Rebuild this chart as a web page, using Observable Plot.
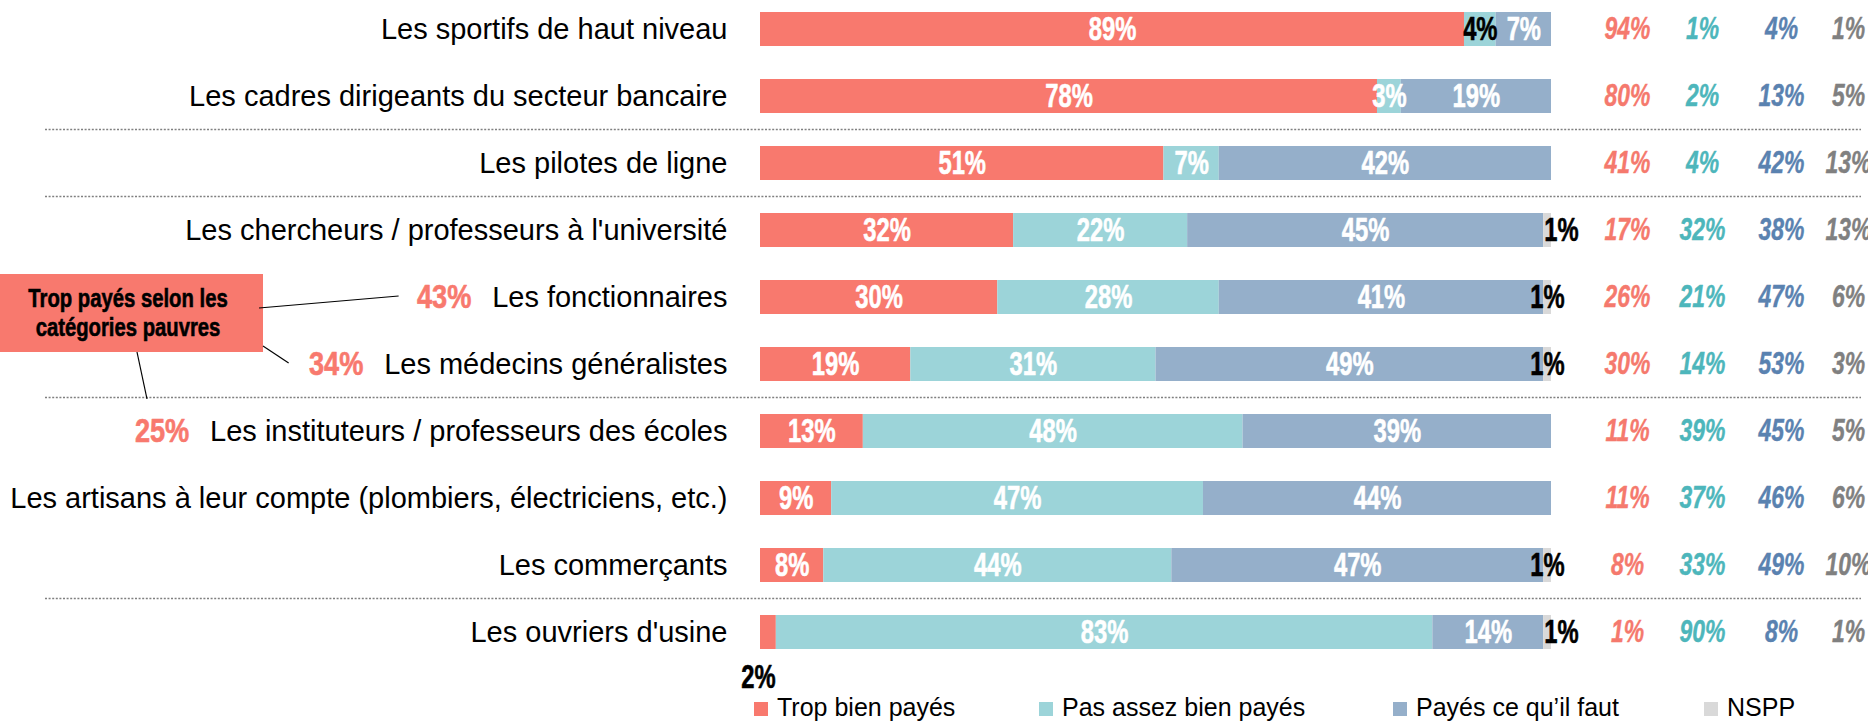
<!DOCTYPE html>
<html>
<head>
<meta charset="utf-8">
<script src="https://cdn.jsdelivr.net/npm/d3@7"></script>
<script src="https://cdn.jsdelivr.net/npm/@observablehq/plot@0.6"></script>
<style>
  html, body { margin: 0; padding: 0; background: #fff; }
  body { width: 1868px; height: 725px; overflow: hidden; font-family: "Liberation Sans", Arial, sans-serif; }
  #legend { position: relative; width: 1868px; height: 35px; }
  .li { position: absolute; top: 0; height: 35px; display: flex; align-items: center; font-size: 25px; color: #000; white-space: nowrap; }
  .sw { width: 14px; height: 14px; margin-right: 9px; margin-top: 2px; }
</style>
</head>
<body>
<div id="chart"></div>
<div id="legend"></div>
<script>
// ---------- DATA ----------
const categories = [
  "Les sportifs de haut niveau",
  "Les cadres dirigeants du secteur bancaire",
  "Les pilotes de ligne",
  "Les chercheurs / professeurs à l'université",
  "Les fonctionnaires",
  "Les médecins généralistes",
  "Les instituteurs / professeurs des écoles",
  "Les artisans à leur compte (plombiers, électriciens, etc.)",
  "Les commerçants",
  "Les ouvriers d'usine"
];
const seriesNames = ["Trop bien payés", "Pas assez bien payés", "Payés ce qu’il faut", "NSPP"];
const tropBien  = [89, 78, 51, 32, 30, 19, 13,  9,  8,  2];
const pasAssez  = [ 4,  3,  7, 22, 28, 31, 48, 47, 44, 83];
const payes     = [ 7, 19, 42, 45, 41, 49, 39, 44, 47, 14];
const nspp      = [ 0,  0,  0,  1,  1,  1,  0,  0,  1,  1];

// comparison columns (catégories pauvres)
const pauvresTrop     = [94, 80, 41, 17, 26, 30, 11, 11,  8,  1];
const pauvresPasAssez = [ 1,  2,  4, 32, 21, 14, 39, 37, 33, 90];
const pauvresPayes    = [ 4, 13, 42, 38, 47, 53, 45, 46, 49,  8];
const pauvresNspp     = [ 1,  5, 13, 13,  6,  3,  5,  6, 10,  1];

const calloutCats   = ["Les fonctionnaires", "Les médecins généralistes", "Les instituteurs / professeurs des écoles"];
const calloutValues = [43, 34, 25];
const calloutText   = ["Trop payés selon les", "catégories pauvres"];

const separatorsBefore = [
  "Les pilotes de ligne",
  "Les chercheurs / professeurs à l'université",
  "Les instituteurs / professeurs des écoles",
  "Les ouvriers d'usine"
];
const darkInsideLabels = [["Les sportifs de haut niveau", "Pas assez bien payés"]];
const nsppOutside = ["Les chercheurs / professeurs à l'université", "Les ouvriers d'usine"];

// ---------- LAYOUT / STYLE ----------
const W = 1868, H = 690;
const X0 = 760, X1 = 1551;
const STEP = 67.8, Y0 = 25;
const barColors = ["#F8796E", "#9CD4D9", "#95AFCA", "#D9D9D9"];
const colColors = ["#F5796D", "#4DB6BB", "#5A82B0", "#808080"];
const colDx = [-234, -159, -80, -13];
const legendLeft = [754, 1039, 1393, 1704];
const NUM_FONT = "'Liberation Sans', Arial, sans-serif";
const LABEL_FONT = "'Liberation Sans', Arial, sans-serif";
const condense = {"num-bar": 0.7, "num-col": 0.74, "num-callout": 0.8};

// ---------- BUILD TABLES ----------
const seriesArrays = [tropBien, pasAssez, payes, nspp];
const data = [];
categories.forEach((cat, i) => {
  let acc = 0;
  seriesArrays.forEach((arr, k) => {
    const v = arr[i];
    data.push({cat, series: seriesNames[k], value: v, start: acc, end: acc + v, mid: acc + v / 2});
    acc += v;
  });
});
const isDark = d => darkInsideLabels.some(([c, s]) => c === d.cat && s === d.series);
const isBelow = d => d.series === seriesNames[0] && d.value <= 2;
const isNspp = d => d.series === "NSPP";

const pauvresArrays = [pauvresTrop, pauvresPasAssez, pauvresPayes, pauvresNspp];

// measure category label widths
const ctx = document.createElement("canvas").getContext("2d");
ctx.font = "29px " + LABEL_FONT;
const labelWidth = c => ctx.measureText(c).width;

const n = categories.length;
const txt = d => d.value + "%";
const numStyle = {fontSize: 34, fontWeight: "bold", fontFamily: NUM_FONT, ariaDescription: "num-bar", strokeWidth: 0.6};

const marks = [
  Plot.ruleY(separatorsBefore, {dy: -STEP / 2, stroke: "#808080", strokeWidth: 1.5, strokeDasharray: "2,1.6"}),
  Plot.barX(data, {x1: "start", x2: "end", y: "cat", fill: "series"}),
  // white labels inside
  Plot.text(data, {x: "mid", y: "cat", text: txt,
    filter: d => d.value > 0 && !isDark(d) && !isBelow(d) && !isNspp(d),
    fill: "white", stroke: "white", ...numStyle}),
  // dark labels inside
  Plot.text(data, {x: "mid", y: "cat", text: txt, filter: d => isDark(d), fill: "black", stroke: "black", ...numStyle}),
  // NSPP labels (centered on segment)
  Plot.text(data, {x: "mid", y: "cat", text: txt,
    filter: d => isNspp(d) && d.value > 0 && !nsppOutside.includes(d.cat), fill: "black", stroke: "black", ...numStyle}),
  // NSPP labels (pushed right)
  Plot.text(data, {x: "mid", y: "cat", text: txt,
    filter: d => isNspp(d) && d.value > 0 && nsppOutside.includes(d.cat), dx: 14, fill: "black", stroke: "black", ...numStyle}),
  // tiny segment label below bar
  Plot.text(data, {x: "mid", y: "cat", text: txt, filter: d => isBelow(d), dx: -10, dy: 45, fill: "black", stroke: "black", ...numStyle}),
  // category labels
  Plot.text(categories, {x: 0, y: d => d, text: d => d, textAnchor: "end", dx: -33,
    fontSize: 29, fontFamily: LABEL_FONT, fill: "black"})
];

// callout values
calloutCats.forEach((c, i) => {
  marks.push(Plot.text([c], {x: 0, y: d => d, text: () => calloutValues[i] + "%",
    textAnchor: "middle", dx: -33 - labelWidth(c) - 21 - 27,
    fill: "#F8796E", stroke: "#F8796E", strokeWidth: 0.6, fontSize: 34, fontWeight: "bold", fontFamily: NUM_FONT,
    ariaDescription: "num-callout"}));
});

// comparison columns
pauvresArrays.forEach((arr, k) => {
  marks.push(Plot.text(categories, {y: d => d, text: (d, i) => arr[i] + "%",
    frameAnchor: "right", textAnchor: "middle", dx: colDx[k],
    fill: colColors[k], stroke: colColors[k], strokeWidth: 0.4,
    fontSize: 31, fontWeight: "bold", fontStyle: "italic", fontFamily: NUM_FONT,
    ariaDescription: "num-col"}));
});

const plot = Plot.plot({
  width: W, height: H,
  marginLeft: 45, marginRight: 7, marginTop: 0, marginBottom: 0,
  x: {domain: [0, 100], range: [X0, X1], axis: null},
  y: {domain: categories, range: [Y0 - STEP / 2, Y0 + STEP * (n - 0.5)], paddingInner: 0.49, paddingOuter: 0.245, axis: null},
  color: {domain: seriesNames, range: barColors},
  style: {background: "white", fontFamily: LABEL_FONT, overflow: "visible"},
  marks
});
document.getElementById("chart").appendChild(plot);

const svg = d3.select(plot);
// condense the numeric labels horizontally (narrow display face)
Object.entries(condense).forEach(([name, s]) => {
  svg.selectAll(`g[aria-description="${name}"] text`).each(function () {
    const t = this.getAttribute("transform") || "";
    const xa = this.getAttribute("x");
    if (xa !== null) this.setAttribute("x", (+xa) / s);
    this.setAttribute("transform", (t ? t + " " : "") + `scale(${s},1)`);
  });
});

// ---------- CALLOUT BOX ----------
const ys = plot.scale("y");
const yc = c => ys.apply(c) + ys.bandwidth / 2;
const y5 = yc(calloutCats[0]), y6 = yc(calloutCats[1]), y7 = yc(calloutCats[2]);
const left43 = X0 - 33 - labelWidth(calloutCats[0]) - 21 - 55;
const left34 = X0 - 33 - labelWidth(calloutCats[1]) - 21 - 55;
const g = svg.append("g");
g.append("rect").attr("x", 0).attr("y", y5 - 23).attr("width", 263).attr("height", 78).attr("fill", "#F8796E");
calloutText.forEach((t, i) => {
  g.append("text")
    .attr("transform", `translate(128,${y5 + 1 + i * 29}) scale(0.78,1)`)
    .attr("text-anchor", "middle").attr("dominant-baseline", "central")
    .attr("font-family", NUM_FONT).attr("font-weight", "bold").attr("font-size", 26)
    .attr("fill", "black").attr("stroke", "black").attr("stroke-width", 0.6).text(t);
});
const leaders = [
  [259, y5 + 11, left43 - 17, y5 - 1],
  [263, y5 + 49, left34 - 19, y6 - 1],
  [137, y5 + 55, 147, y7 - 32]
];
leaders.forEach(([a, b, c, d]) => g.append("line").attr("x1", a).attr("y1", b).attr("x2", c).attr("y2", d)
  .attr("stroke", "black").attr("stroke-width", 1.2));

// ---------- LEGEND ----------
const legend = document.getElementById("legend");
seriesNames.forEach((s, k) => {
  const item = document.createElement("div");
  item.className = "li";
  item.style.left = legendLeft[k] + "px";
  item.innerHTML = `<div class="sw" style="background:${barColors[k]}"></div><span>${s}</span>`;
  legend.appendChild(item);
});
</script>
</body>
</html>
